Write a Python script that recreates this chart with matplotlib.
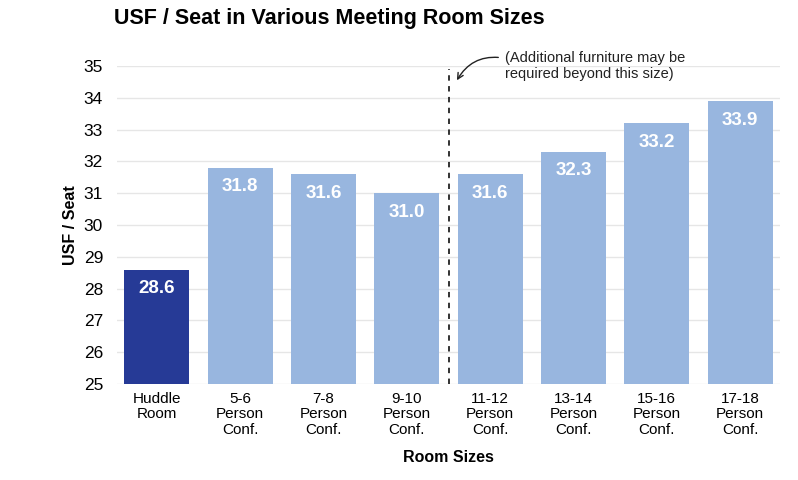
import matplotlib.pyplot as plt

plt.rcParams['font.family'] = ['Liberation Sans', 'DejaVu Sans']

rooms = ['Huddle\nRoom', '5-6\nPerson\nConf.', '7-8\nPerson\nConf.', '9-10\nPerson\nConf.',
         '11-12\nPerson\nConf.', '13-14\nPerson\nConf.', '15-16\nPerson\nConf.', '17-18\nPerson\nConf.']
usf = [28.6, 31.8, 31.6, 31.0, 31.6, 32.3, 33.2, 33.9]
yticks = [25, 26, 27, 28, 29, 30, 31, 32, 33, 34, 35]

dark = '#263a96'
light = '#98b6df'
colors = [dark] + [light] * (len(usf) - 1)

fig = plt.figure(figsize=(7.98, 4.8), dpi=100)
ax = fig.add_axes([0.1466, 0.2, 0.831, 0.6625])

x = list(range(len(usf)))
ax.bar(x, [v - 25 for v in usf], bottom=25, width=0.78, color=colors, zorder=3)

for i, v in enumerate(usf):
    ax.text(i, v - 0.6, f'{v:.1f}', ha='center', va='center', color='white',
            fontsize=13.5, fontweight='bold', zorder=4)

ax.set_ylim(25, 35)
ax.set_xlim(-0.48, 7.48)
ax.set_yticks(yticks)
ax.set_xticks(x)
ax.set_xticklabels(rooms, fontsize=11, linespacing=1.1)
ax.tick_params(axis='y', labelsize=12.5, length=0, pad=10)
ax.tick_params(axis='x', length=0, pad=6)
ax.grid(axis='y', color='#e6e6e6', linewidth=1, zorder=0)
for s in ax.spines.values():
    s.set_visible(False)

ax.axvline(3.5, ymin=0, ymax=0.99, color='#222222', linestyle=(0, (3, 3)), linewidth=1.3, zorder=4)

ax.annotate('(Additional furniture may be\nrequired beyond this size)',
            xy=(3.6, 34.55), xytext=(4.18, 35.0), fontsize=10.5, color='#222222',
            ha='left', va='center', linespacing=1.25, annotation_clip=False,
            arrowprops=dict(arrowstyle='->', color='#222222', lw=1,
                            connectionstyle='arc3,rad=0.35', shrinkA=3, shrinkB=0,
                            relpos=(0, 0.75)))

ax.set_ylabel('USF / Seat', fontsize=11.5, fontweight='bold', labelpad=4)
ax.set_xlabel('Room Sizes', fontsize=11.5, fontweight='bold', labelpad=10)

fig.text(0.143, 0.962, 'USF / Seat in Various Meeting Room Sizes', fontsize=15.5,
         fontweight='bold', ha='left', va='center')

fig.savefig('out.png', dpi=100)
